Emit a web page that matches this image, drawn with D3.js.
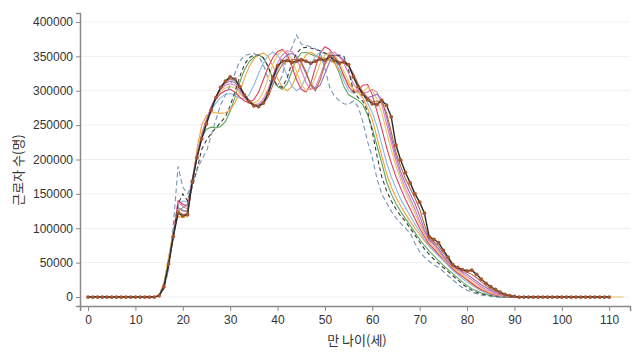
<!DOCTYPE html>
<html>
<head>
<meta charset="utf-8">
<script src="https://cdn.jsdelivr.net/npm/d3@7"></script>
<style>
  body { margin: 0; background: #fff; }
  text { font-family: "Liberation Sans", Arial, sans-serif; }
</style>
</head>
<body>
<div id="chart"></div>
<script>
// values in thousands of workers, index = age (0, 1, 2, ...)
var xTicks = [0, 10, 20, 30, 40, 50, 60, 70, 80, 90, 100, 110];
var yTicks = [0, 50000, 100000, 150000, 200000, 250000, 300000, 350000, 400000];

var sDashBlue = [0,0,0,0,0,0,0,0,0,0,0,0,0,0,0,
  2,12,40,105,190,160,150,165,185,200,212,235,258,280,293,308,325,343,351,353,354,350,338,318,309,308,322,350,362,381,
  368,366,364,361,355,332,305,292,286,281,280,285,277,255,226,203,172,150,137,125,115,107,100,93,78,66,58,52,47,43,
  37,31,25,19,14,10,7,5,3,2,1,
  0,0,0,0,0,0,0,0,0,0,0,0,0,0,0,0,0,0,0,0,0,0,0,0,0];
var sDashDark = [0,0,0,0,0,0,0,0,0,0,0,0,0,0,0,
  2,12,42,90,135,150,140,160,185,215,228,238,246,254,262,278,298,320,338,348,352,352,348,335,318,307,305,318,340,354,
  362,363,362,360,358,355,352,351,352,350,330,300,290,285,270,240,205,175,155,140,128,118,110,100,90,80,70,62,55,49,
  43,37,31,25,19,14,10,7,4,3,2,1,
  0,0,0,0,0,0,0,0,0,0,0,0,0,0,0,0,0,0,0,0,0,0,0,0];
var sGreen = [0,0,0,0,0,0,0,0,0,0,0,0,0,0,0,
  2,18,55,95,125,130,135,170,205,232,244,247,246,248,255,270,290,312,330,342,349,352,348,336,318,306,302,310,328,346,
  355,356,353,350,348,347,346,342,326,306,294,290,286,280,265,245,220,195,168,150,136,124,114,104,94,84,75,67,60,53,
  46,40,34,28,22,17,12,9,6,4,2,1,
  0,0,0,0,0,0,0,0,0,0,0,0,0,0,0,0,0,0,0,0,0,0,0,0];
var sOrange = [0,0,0,0,0,0,0,0,0,0,0,0,0,0,0,
  3,20,58,97,117,116,117,168,215,250,264,268,268,267,268,272,282,298,318,335,346,352,355,350,336,318,305,300,306,322,
  340,352,356,352,348,346,344,340,330,320,310,303,298,290,275,258,232,205,180,160,145,132,121,110,100,91,82,74,67,61,
  55,49,43,37,31,25,19,14,10,7,4,2,1,
  0,0,0,0,0,0,0,0,0,0,0,0,0,0,0,0,0,0,0,0,0,0,0];
var sLightBlue = [0,0,0,0,0,0,0,0,0,0,0,0,0,0,0,
  2,16,50,90,135,140,138,172,208,238,258,272,282,290,295,296,293,289,288,294,308,325,340,351,356,352,340,322,307,300,
  305,320,338,350,356,354,350,346,332,314,300,296,298,296,282,268,248,222,196,175,158,142,130,118,106,95,84,74,67,60,
  53,46,39,33,27,22,17,13,9,6,4,2,1,
  0,0,0,0,0,0,0,0,0,0,0,0,0,0,0,0,0,0,0,0,0,0,0];
var sCrimson = [0,0,0,0,0,0,0,0,0,0,0,0,0,0,0,
  2,15,48,92,140,135,132,170,208,236,258,275,288,296,300,302,298,291,285,283,287,298,316,334,348,357,360,353,336,316,
  302,298,310,334,355,364,360,350,338,322,306,298,300,308,309,294,270,245,218,195,175,158,142,128,114,100,88,77,70,62,
  55,48,41,35,30,25,20,15,11,8,5,3,2,1,
  0,0,0,0,0,0,0,0,0,0,0,0,0,0,0,0,0,0,0,0,0,0];
var sGold = [0,0,0,0,0,0,0,0,0,0,0,0,0,0,0,
  2,17,52,92,128,125,126,168,206,236,258,276,290,299,304,306,304,297,289,284,282,286,298,318,338,352,358,357,346,328,
  310,300,303,320,340,352,356,352,342,328,314,302,296,298,305,300,288,268,240,214,190,170,152,138,122,106,92,80,73,64,
  56,49,43,37,32,27,22,17,13,9,6,4,2,1,
  0,0,0,0,0,0,0,0,0,0,0,0,0,0,0,0,0,0,0,0,0,0,0,0,0];
var sPink = [0,0,0,0,0,0,0,0,0,0,0,0,0,0,0,
  2,15,47,90,138,132,128,168,206,236,258,277,292,302,308,310,308,300,290,283,280,281,288,302,322,340,352,358,357,348,
  330,312,302,305,322,342,354,356,350,340,325,310,300,296,298,302,298,280,252,225,198,176,158,143,128,110,95,82,76,67,
  58,50,44,40,35,30,25,20,15,11,8,5,3,2,1,
  0,0,0,0,0,0,0,0,0,0,0,0,0,0,0,0,0,0,0,0,0];
var sPurple = [0,0,0,0,0,0,0,0,0,0,0,0,0,0,0,
  2,15,47,88,130,126,124,167,204,233,256,276,292,304,311,314,312,303,292,284,279,279,284,296,314,332,345,352,354,350,
  340,325,310,303,308,325,342,352,350,345,336,322,306,296,290,292,295,288,262,232,205,182,165,150,136,118,98,84,78,70,
  60,52,45,41,37,33,28,23,18,14,10,7,4,3,1,
  0,0,0,0,0,0,0,0,0,0,0,0,0,0,0,0,0,0,0,0,0];
var sSienna = [0,0,0,0,0,0,0,0,0,0,0,0,0,0,0,
  2,15,48,88,125,120,121,167,203,231,254,274,291,305,313,317,316,307,295,286,280,278,281,291,308,326,338,343,345,346,
  342,328,308,300,316,338,350,348,342,340,336,325,310,298,290,284,285,284,268,240,210,190,172,158,144,128,105,86,80,74,
  64,55,46,42,39,36,33,28,22,17,12,9,6,3,2,1,
  0,0,0,0,0,0,0,0,0,0,0,0,0,0,0,0,0,0,0,0];
var sBlack = [0,0,0,0,0,0,0,0,0,0,0,0,0,0,0,
  2,15,48,88,122,118,120,168,203,230,252,272,290,305,314,320,317,306,294,284,278,277,282,296,318,336,343,344,341,343,
  345,343,340,343,346,344,350,344,340,342,338,320,306,295,287,281,280,286,279,262,221,199,181,166,150,138,122,88,84,79,
  68,58,47,43,40,38,39,33,26,20,15,11,7,4,2,1,
  0,0,0,0,0,0,0,0,0,0,0,0,0,0,0,0,0,0,0,0];

var series = [
  {name: "green", values: sGreen, color: "#5aa65c", dash: null},
  {name: "orange", values: sOrange, color: "#f0a23a", dash: null},
  {name: "lightblue", values: sLightBlue, color: "#8cb9e2", dash: null},
  {name: "crimson", values: sCrimson, color: "#dc3c62", dash: null},
  {name: "gold", values: sGold, color: "#e8c45e", dash: null},
  {name: "pink", values: sPink, color: "#e07cbc", dash: null},
  {name: "purple", values: sPurple, color: "#9a6cc0", dash: null},
  {name: "sienna", values: sSienna, color: "#b8683c", dash: null},
  {name: "dashdark", values: sDashDark, color: "#3c3c3c", dash: "4,3"},
  {name: "dashblue", values: sDashBlue, color: "#7894b2", dash: "5,3"},
  {name: "black", values: sBlack, color: "#2a2a2a", dash: null}
];

var width = 640, height = 360;
var margin = {top: 13, right: 10, bottom: 54, left: 80};

var svg = d3.select("#chart").append("svg")
    .attr("width", width)
    .attr("height", height);

var x = d3.scaleLinear().domain([-1.7, 114.4]).range([margin.left, width - margin.right]);
var y = d3.scaleLinear().domain([-13000, 413000]).range([height - margin.bottom, margin.top]);

// gridlines
svg.append("g")
    .selectAll("line")
    .data(yTicks)
    .enter().append("line")
    .attr("x1", margin.left)
    .attr("x2", width - margin.right)
    .attr("y1", function(d) { return y(d); })
    .attr("y2", function(d) { return y(d); })
    .attr("stroke", "#efefef")
    .attr("stroke-width", 1);

var line = d3.line()
    .x(function(d, i) { return x(i); })
    .y(function(d) { return y(d * 1000); });

svg.append("g")
    .selectAll("path")
    .data(series)
    .enter().append("path")
    .attr("d", function(d) { return line(d.values); })
    .attr("fill", "none")
    .attr("stroke", function(d) { return d.color; })
    .attr("stroke-width", function(d) { return d.name == "black" ? 1.4 : 1.1; })
    .attr("stroke-dasharray", function(d) { return d.dash; });

// markers on the black series
svg.append("g")
    .selectAll("circle")
    .data(sBlack)
    .enter().append("circle")
    .attr("cx", function(d, i) { return x(i); })
    .attr("cy", function(d) { return y(d * 1000); })
    .attr("r", 1.9)
    .attr("fill", "#a5552f");

var xAxis = d3.axisBottom(x).tickValues(xTicks).tickSize(5).tickPadding(4);
var yAxis = d3.axisLeft(y).tickValues(yTicks).tickSize(4).tickPadding(3).tickFormat(d3.format("d"));

var gx = svg.append("g")
    .attr("transform", "translate(0," + (height - margin.bottom) + ")")
    .call(xAxis);
var gy = svg.append("g")
    .attr("transform", "translate(" + margin.left + ",0)")
    .call(yAxis);

[gx, gy].forEach(function(g) {
    g.select(".domain").attr("stroke", "#8a8a8a").attr("stroke-width", 1.5);
    g.selectAll(".tick line").attr("stroke", "#8a8a8a");
    g.selectAll(".tick text").attr("fill", "#333").style("font-size", "12px");
});

// axis titles
svg.append("text")
    .attr("x", 357)
    .attr("y", 345)
    .style("text-anchor", "middle")
    .style("font-family", "'Noto Sans CJK KR', sans-serif")
    .style("font-size", "13px")
    .attr("fill", "#333")
    .text("만 나이(세)");

svg.append("text")
    .attr("transform", "rotate(-90)")
    .attr("x", -170)
    .attr("y", 23)
    .style("text-anchor", "middle")
    .style("font-family", "'Noto Sans CJK KR', sans-serif")
    .style("font-size", "13px")
    .attr("fill", "#333")
    .text("근로자 수(명)");
</script>
</body>
</html>
